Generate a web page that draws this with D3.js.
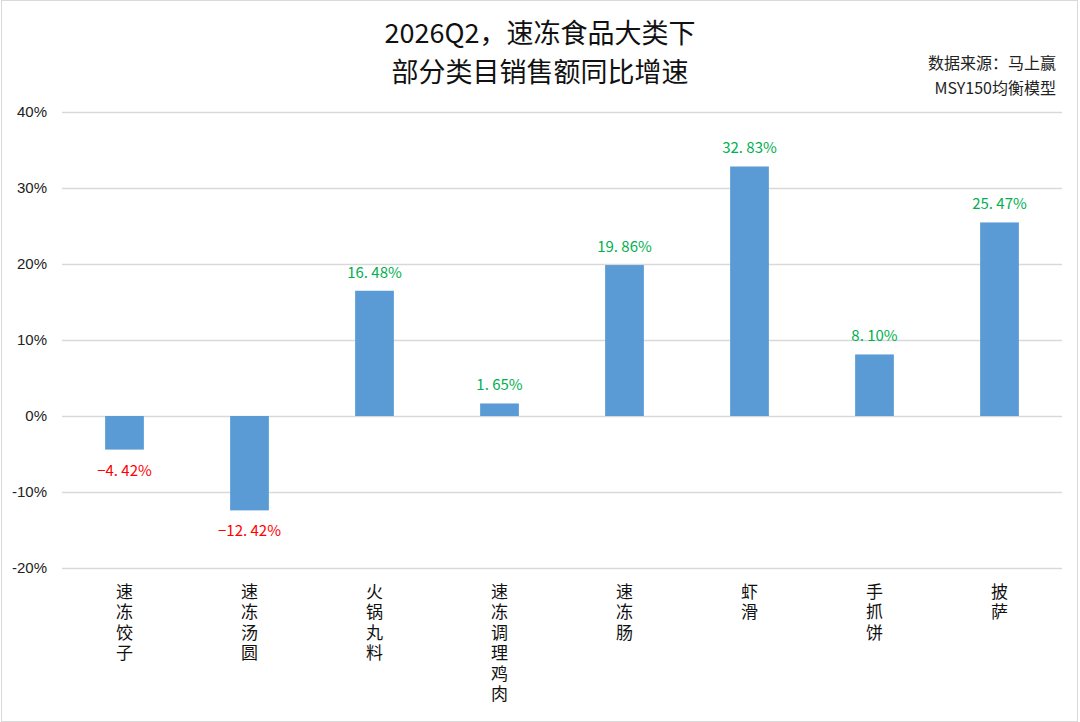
<!DOCTYPE html>
<html>
<head>
<meta charset="utf-8">
<script src="https://cdn.jsdelivr.net/npm/d3@7"></script>
<style>
  body { margin: 0; background: #fff; }
  svg { display: block; }
</style>
</head>
<body>
<div id="chart"></div>
<script>
// data
var categories = ["速冻饺子", "速冻汤圆", "火锅丸料", "速冻调理鸡肉", "速冻肠", "虾滑", "手抓饼", "披萨"];
var growth = [-4.42, -12.42, 16.48, 1.65, 19.86, 32.83, 8.10, 25.47];
var yTicks = [-20, -10, 0, 10, 20, 30, 40];
var titleLines = ["2026Q2，速冻食品大类下", "部分类目销售额同比增速"];
var sourceLines = ["数据来源：马上赢", "MSY150均衡模型"];

var width = 1080,
    height = 722,
    margin = {top: 112, right: 18, bottom: 154, left: 62};

var svg = d3.select("#chart").append("svg")
    .attr("width", width)
    .attr("height", height);

// outer frame
svg.append("rect")
    .attr("x", 1.5).attr("y", 0.5)
    .attr("width", width - 4).attr("height", height - 1)
    .style("fill", "#fff")
    .style("stroke", "#d9d9d9");

var x = d3.scaleBand()
    .domain(categories)
    .range([margin.left, width - margin.right])
    .paddingInner(0.69)
    .paddingOuter(0.345);

var y = d3.scaleLinear()
    .domain([-20, 40])
    .range([height - margin.bottom, margin.top]);

// gridlines + tick labels
var yAxis = d3.axisLeft(y)
    .tickValues(yTicks)
    .tickSize(-(width - margin.left - margin.right))
    .tickPadding(15)
    .tickFormat(function(d) { return d + "%"; });

var gy = svg.append("g")
    .attr("transform", "translate(" + margin.left + ",0)")
    .call(yAxis);
gy.select(".domain").remove();
gy.selectAll("line").style("stroke", "#d9d9d9").style("stroke-width", "1.3px");
gy.selectAll("text")
    .style("font-family", "'Liberation Sans', Arial, sans-serif")
    .style("font-size", "15px")
    .style("fill", "#222");

// bars
svg.selectAll("rect.bar")
    .data(growth)
  .enter().append("rect")
    .attr("class", "bar")
    .attr("x", function(d, i) { return x(categories[i]); })
    .attr("width", x.bandwidth())
    .attr("y", function(d) { return y(Math.max(0, d)); })
    .attr("height", function(d) { return Math.abs(y(d) - y(0)); })
    .style("fill", "#5b9bd5");

// value labels
svg.selectAll("text.val")
    .data(growth)
  .enter().append("text")
    .attr("class", "val")
    .attr("x", function(d, i) { return x(categories[i]) + x.bandwidth() / 2; })
    .attr("y", function(d) { return d >= 0 ? y(d) - 13 : y(d) + 26; })
    .attr("text-anchor", "middle")
    .style("font-family", "'Noto Sans CJK SC', sans-serif")
    .style("font-size", "15px")
    .style("fill", function(d) { return d >= 0 ? "#00b050" : "#ff0000"; })
    .text(function(d) { return (d < 0 ? "−" : "") + Math.abs(d).toFixed(2).replace(".", ". ") + "%"; });

// vertical category labels: one character per line
var catG = svg.selectAll("g.cat")
    .data(categories)
  .enter().append("g")
    .attr("class", "cat")
    .attr("transform", function(d) { return "translate(" + (x(d) + x.bandwidth() / 2) + ",0)"; });

catG.selectAll("text")
    .data(function(d) { return d.split(""); })
  .enter().append("text")
    .attr("x", 0)
    .attr("y", function(d, i) { return 583 + i * 20.5; })
    .style("writing-mode", "vertical-rl")
    .style("text-orientation", "upright")
    .style("font-family", "'Noto Sans CJK SC', sans-serif")
    .style("font-size", "17px")
    .style("fill", "#111")
    .text(function(d) { return d; });

// title
svg.selectAll("text.title")
    .data(titleLines)
  .enter().append("text")
    .attr("class", "title")
    .attr("x", 540)
    .attr("y", function(d, i) { return 43 + i * 39; })
    .attr("text-anchor", "middle")
    .style("font-family", "'Noto Sans CJK SC', sans-serif")
    .style("font-size", "27px")
    .style("fill", "#111")
    .text(function(d) { return d; });

// source note
svg.selectAll("text.src")
    .data(sourceLines)
  .enter().append("text")
    .attr("class", "src")
    .attr("x", 1056)
    .attr("y", function(d, i) { return 69 + i * 25; })
    .attr("text-anchor", "end")
    .style("font-family", "'Noto Sans CJK SC', sans-serif")
    .style("font-size", "16px")
    .style("fill", "#222")
    .text(function(d) { return d; });
</script>
</body>
</html>
